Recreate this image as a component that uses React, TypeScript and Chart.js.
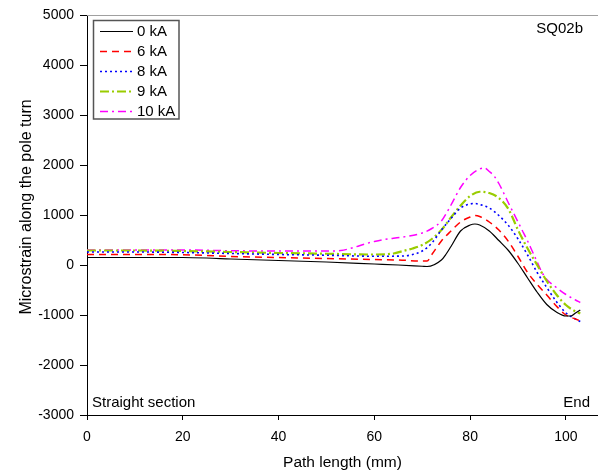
import React, { useEffect, useRef } from "react";
import { Chart, registerables } from "chart.js";

Chart.register(...registerables);

// ---- data ----
const seriesLabels = ["0 kA", "6 kA", "8 kA", "9 kA", "10 kA"];
const xTicks = [0, 20, 40, 60, 80, 100];
const yTicks = [-3000, -2000, -1000, 0, 1000, 2000, 3000, 4000, 5000];

const x0kA = [0, 10, 20, 25, 30, 40, 50, 60, 65, 70, 71, 74, 75, 76, 78, 80, 81, 82, 84, 86, 88, 90, 92, 94, 96, 98, 100, 101, 102, 103];
const y0kA = [150, 150, 150, 140, 120, 90, 60, 20, 0, -25, -30, 100, 220, 370, 680, 800, 820, 800, 680, 490, 290, 30, -260, -545, -790, -940, -1020, -1020, -960, -900];

const x6kA = [0, 10, 20, 25, 30, 40, 50, 60, 65, 70, 71, 72, 74, 76, 78, 80, 81, 82, 84, 86, 88, 90, 92, 94, 96, 98, 100, 102, 103];
const y6kA = [210, 210, 205, 190, 170, 150, 130, 110, 100, 80, 80, 210, 480, 680, 860, 960, 990, 970, 860, 700, 470, 170, -150, -390, -600, -820, -1000, -1080, -1120];

const x8kA = [0, 10, 20, 30, 40, 50, 60, 66, 68, 70, 72, 74, 76, 78, 80, 81, 82, 84, 86, 88, 90, 92, 94, 96, 98, 100, 102, 103];
const y8kA = [260, 260, 250, 230, 210, 195, 175, 180, 210, 280, 440, 700, 930, 1140, 1220, 1230, 1210, 1140, 990, 790, 520, 200, -150, -450, -730, -960, -1080, -1130];

const x9kA = [0, 10, 20, 30, 40, 50, 60, 64, 66, 68, 70, 72, 74, 76, 78, 80, 82, 84, 86, 88, 90, 92, 94, 96, 98, 100, 102, 103];
const y9kA = [290, 290, 280, 260, 240, 225, 210, 230, 280, 330, 400, 520, 700, 950, 1190, 1380, 1465, 1440, 1340, 1120, 700, 330, 0, -320, -590, -800, -930, -970];

const x10kA = [0, 10, 20, 30, 40, 50, 53, 56, 58, 60, 62, 66, 70, 72, 74, 76, 78, 80, 82, 83, 84, 85, 86, 87, 88, 89, 90, 91, 92, 93, 94, 95, 96, 98, 100, 102, 103];
const y10kA = [300, 300, 300, 285, 280, 280, 290, 360, 420, 470, 510, 560, 640, 730, 880, 1200, 1550, 1790, 1920, 1940, 1870, 1780, 1630, 1440, 1240, 1050, 860, 670, 480, 270, 60, -150, -290, -450, -590, -700, -750];

const FONT = "'Liberation Sans', Arial, Helvetica, sans-serif";

const toPoints = (xs: number[], ys: number[]) => xs.map((x, i) => ({ x, y: ys[i] }));

const styles = [
  { color: "#000000", width: 1.2, dash: [] as number[] },
  { color: "#FF0000", width: 1.5, dash: [7, 5] },
  { color: "#0000FF", width: 1.6, dash: [2, 3] },
  { color: "#99CC00", width: 2.2, dash: [9, 3, 2, 3] },
  { color: "#FF00FF", width: 1.5, dash: [8, 4, 2, 4] },
];

const overlayPlugin = {
  id: "overlay",
  afterDraw(chart: any) {
    const ctx = chart.ctx as CanvasRenderingContext2D;
    const a = chart.chartArea;
    ctx.save();
    // top frame line
    ctx.strokeStyle = "#A0A0A0";
    ctx.lineWidth = 1;
    ctx.beginPath();
    ctx.moveTo(a.left, a.top + 0.5);
    ctx.lineTo(a.right, a.top + 0.5);
    ctx.stroke();

    ctx.fillStyle = "#000";
    ctx.font = `15px ${FONT}`;
    ctx.textBaseline = "alphabetic";
    // annotations
    ctx.textAlign = "right";
    ctx.fillText("SQ02b", 583, 32.5);
    ctx.fillText("End", 590, 406.5);
    ctx.textAlign = "left";
    ctx.fillText("Straight section", 92, 406.5);

    // axis titles
    ctx.textAlign = "center";
    ctx.font = `15.5px ${FONT}`;
    ctx.fillText("Path length (mm)", (a.left + a.right) / 2, 467);
    ctx.save();
    ctx.font = `16px ${FONT}`;
    ctx.translate(31, 207);
    ctx.rotate(-Math.PI / 2);
    ctx.fillText("Microstrain along the pole turn", 0, 0);
    ctx.restore();

    // legend
    ctx.font = `15px ${FONT}`;
    const lx = 93.5, ly = 20.5, lw = 85.5, lh = 98.5;
    ctx.strokeStyle = "#555555";
    ctx.lineWidth = 1.5;
    ctx.setLineDash([]);
    ctx.fillStyle = "#FFFFFF";
    ctx.fillRect(lx, ly, lw, lh);
    ctx.strokeRect(lx, ly, lw, lh);
    chart.data.datasets.forEach((ds: any, i: number) => {
      const y = 31 + i * 20;
      ctx.strokeStyle = ds.borderColor;
      ctx.lineWidth = ds.borderWidth;
      ctx.setLineDash(ds.borderDash || []);
      ctx.beginPath();
      ctx.moveTo(100, y + 0.5);
      ctx.lineTo(133, y + 0.5);
      ctx.stroke();
      ctx.setLineDash([]);
      ctx.fillStyle = "#000";
      ctx.textAlign = "left";
      ctx.textBaseline = "middle";
      ctx.fillText(ds.label, 137, y + 1);
    });
    ctx.restore();
  },
};

export default function App() {
  const ref = useRef<HTMLCanvasElement | null>(null);
  useEffect(() => {
    document.body.style.margin = "0";
    document.body.style.overflow = "hidden";
    if (!ref.current) return;
    const seriesX = [x0kA, x6kA, x8kA, x9kA, x10kA];
    const seriesY = [y0kA, y6kA, y8kA, y9kA, y10kA];
    const chart = new Chart(ref.current, {
      type: "line",
      data: {
        datasets: seriesLabels.map((label, i) => ({
          label,
          data: toPoints(seriesX[i], seriesY[i]),
          borderColor: styles[i].color,
          backgroundColor: styles[i].color,
          borderWidth: styles[i].width,
          borderDash: styles[i].dash,
          pointRadius: 0,
          fill: false,
          cubicInterpolationMode: "monotone" as const,
        })),
      },
      options: {
        responsive: false,
        animation: false,
        devicePixelRatio: 1,
        layout: { padding: { top: 15, left: 0, right: 0, bottom: 0 } },
        plugins: { legend: { display: false }, tooltip: { enabled: false } },
        scales: {
          x: {
            type: "linear",
            min: 0,
            max: 106.7,
            afterBuildTicks: (s: any) => {
              s.ticks = xTicks.map((v) => ({ value: v }));
            },
            afterFit: (s: any) => {
              s.height = 57;
            },
            grid: { display: true, drawOnChartArea: false, drawTicks: true, tickLength: 5, color: "#000", lineWidth: 1 },
            border: { display: true, color: "#000", width: 1 },
            ticks: {
              color: "#000",
              font: { family: FONT, size: 14 },
              padding: 9,
              maxRotation: 0,
              autoSkip: false,
              callback: (v: any) => String(v),
            },
          },
          y: {
            type: "linear",
            min: -3000,
            max: 5000,
            afterBuildTicks: (s: any) => {
              s.ticks = yTicks.map((v) => ({ value: v }));
            },
            afterFit: (s: any) => {
              s.width = 87;
            },
            grid: { display: true, drawOnChartArea: false, drawTicks: true, tickLength: 7, color: "#000", lineWidth: 1 },
            border: { display: true, color: "#000", width: 1 },
            ticks: {
              color: "#000",
              font: { family: FONT, size: 14 },
              padding: 6,
              autoSkip: false,
              callback: (v: any) => String(v),
            },
          },
        },
      },
      plugins: [overlayPlugin],
    });
    return () => chart.destroy();
  }, []);
  return (
    <div style={{ width: 598, height: 472 }}>
      <canvas ref={ref} width={598} height={472} style={{ display: "block" }} />
    </div>
  );
}
